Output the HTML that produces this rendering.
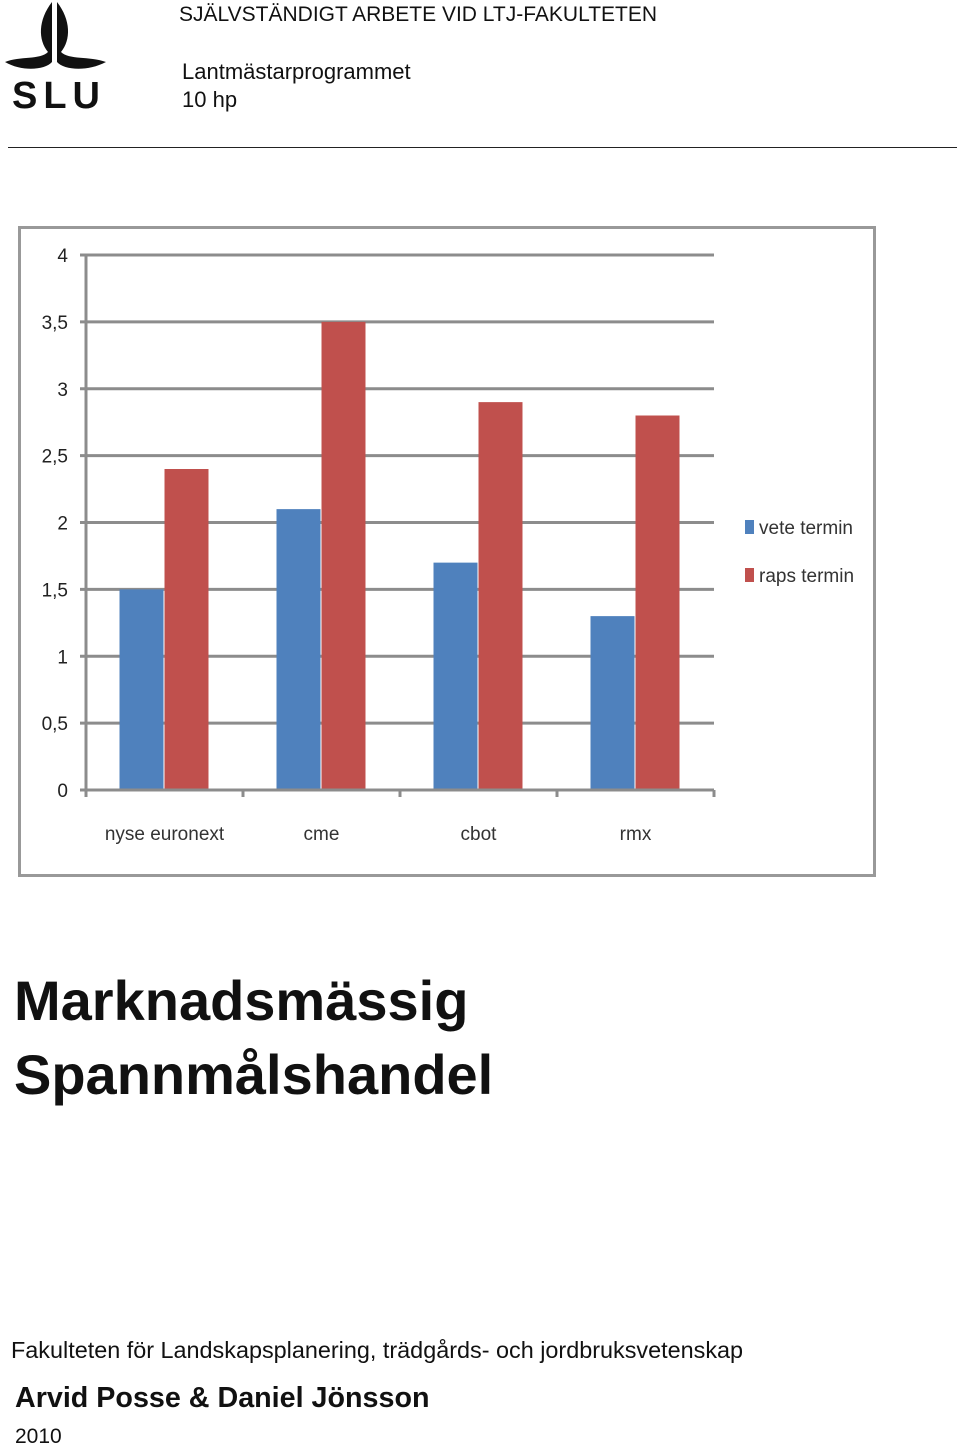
<!DOCTYPE html>
<html><head><meta charset="utf-8"><style>
body{margin:0;width:960px;height:1448px;background:#fff;position:relative;overflow:hidden;font-family:"Liberation Sans",sans-serif;color:#111}
.a{position:absolute;white-space:nowrap}
</style></head><body>
<svg class="a" style="left:0;top:0" width="120" height="120">
<path d="M52 2 C38 20,38 40,48 52 C40 60,20 56,5 62 C22 72,45 70,52 62 L52 30 Z" fill="#111"/>
<path d="M57 2 C71 20,71 40,61 52 C69 60,89 56,106 62 C87 72,64 70,57 62 L57 30 Z" fill="#111"/>
<text x="12" y="108" font-size="38" font-weight="bold" font-family="Liberation Sans" letter-spacing="6" fill="#111">SLU</text>
</svg>
<div class="a" style="left:179px;top:3px;font-size:21px">SJÄLVSTÄNDIGT ARBETE VID LTJ-FAKULTETEN</div>
<div class="a" style="left:182px;top:59px;font-size:22px">Lantmästarprogrammet</div>
<div class="a" style="left:182px;top:87px;font-size:22px">10 hp</div>
<div class="a" style="left:8px;top:147px;width:949px;height:1px;background:#222"></div>

<svg id="chart" class="a" style="left:0;top:0" width="960" height="900"></svg>

<div class="a" style="left:14px;top:964px;font-size:56px;font-weight:bold;line-height:74px">Marknadsmässig<br>Spannmålshandel</div>
<div class="a" style="left:11px;top:1337px;font-size:23.4px">Fakulteten för Landskapsplanering, trädgårds- och jordbruksvetenskap</div>
<div class="a" style="left:15px;top:1382px;font-size:28.7px;font-weight:bold">Arvid Posse &amp; Daniel Jönsson</div>
<div class="a" style="left:15px;top:1425px;font-size:21px">2010</div>

<script>
const categories=["nyse euronext","cme","cbot","rmx"];
const veteValues=[1.5,2.1,1.7,1.3];
const rapsValues=[2.4,3.5,2.9,2.8];
const yTicks=[0,0.5,1,1.5,2,2.5,3,3.5,4];
const yTickLabels=["0","0,5","1","1,5","2","2,5","3","3,5","4"];
const seriesNames=["vete termin","raps termin"];
const svg=document.getElementById('chart');
const NS='http://www.w3.org/2000/svg';
const x0=86,x1=714,y0=790,yTop=255;
const y=v=>y0-(v/4)*(y0-yTop);
const bw=(x1-x0)/categories.length;
const xc=i=>x0+bw*(i+0.5);
function mk(t,a){const e=document.createElementNS(NS,t);for(const k in a)e.setAttribute(k,a[k]);svg.appendChild(e);return e;}
let e=mk('rect',{x:19.5,y:227.5,width:855,height:648,fill:'#fff',stroke:'#999','stroke-width':3});


yTicks.forEach((t,i)=>{
 let g=mk('line',{x1:x0-6,x2:x1,y1:y(t),y2:y(t),stroke:'#8c8c8c','stroke-width':3});
 
 
 let tx=mk('text',{x:68,y:y(t)+7,'text-anchor':'end','font-size':19,fill:'#222','font-family':'Liberation Sans Narrow, Liberation Sans, sans-serif'});
 tx.textContent=yTickLabels[i];
 
 
});
e=mk('line',{x1:x0,x2:x0,y1:yTop,y2:y0,stroke:'#8c8c8c','stroke-width':3});


for(let i=0;i<=categories.length;i++){
 let t=mk('line',{x1:x0+bw*i,x2:x0+bw*i,y1:y0,y2:y0+7,stroke:'#8c8c8c','stroke-width':3});
 
 
}
categories.forEach((c,i)=>{
 let b=mk('rect',{x:xc(i)-45,y:y(veteValues[i]),width:44,height:y0-y(veteValues[i]),fill:'#4f81bd'});
 
 
 let r=mk('rect',{x:xc(i),y:y(rapsValues[i]),width:44,height:y0-y(rapsValues[i]),fill:'#c0504d'});
 
 
 let t=mk('text',{x:xc(i),y:840,'text-anchor':'middle','font-size':19,fill:'#333','font-family':'Liberation Sans Narrow, Liberation Sans, sans-serif'});
 t.textContent=c;
 
 
});
e=mk('line',{x1:x0,x2:x1,y1:y0,y2:y0,stroke:'#8c8c8c','stroke-width':3});


const colors=['#4f81bd','#c0504d'];
seriesNames.forEach((n,i)=>{
 let s=mk('rect',{x:745,y:520+48*i,width:9,height:14,fill:colors[i]});
 
 
 let t=mk('text',{x:759,y:534+48*i,'font-size':19,fill:'#333','font-family':'Liberation Sans Narrow, Liberation Sans, sans-serif'});
 t.textContent=n;
 
 
});
</script>
</body></html>
